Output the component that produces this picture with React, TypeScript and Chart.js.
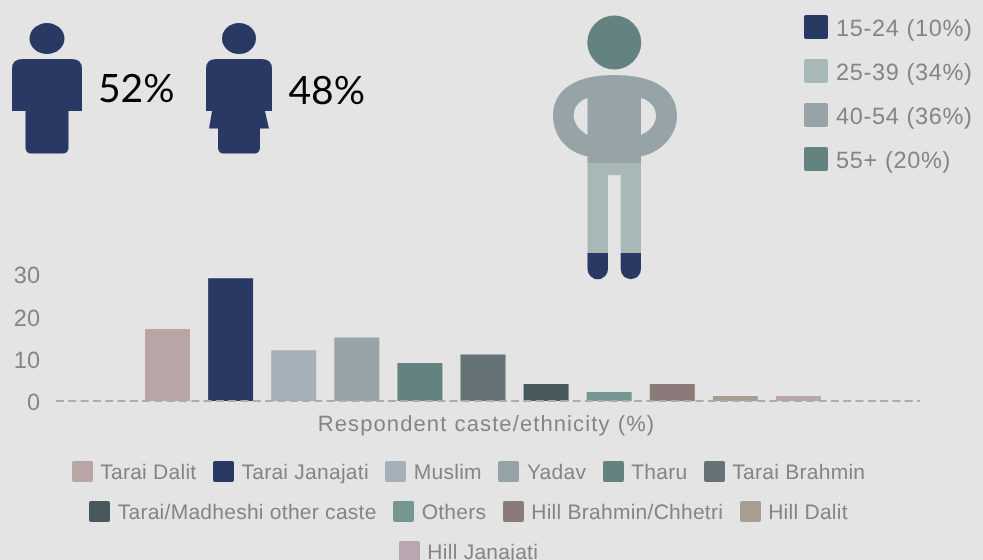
import React, { useEffect, useRef } from "react";
import { Chart, registerables } from "chart.js";

Chart.register(...registerables);

const casteGroups = [
  "Tarai Dalit", "Tarai Janajati", "Muslim", "Yadav", "Tharu", "Tarai Brahmin",
  "Tarai/Madheshi other caste", "Others", "Hill Brahmin/Chhetri", "Hill Dalit", "Hill Janajati",
];
const casteShares = [17, 29, 12, 15, 9, 11, 4, 2.1, 4, 1.2, 1.2];
const casteColors = [
  "#b8a6a6", "#2a3864", "#a6b0b8", "#96a3a7", "#64827f", "#657276",
  "#48595d", "#749792", "#8a7b7a", "#a69e91", "#b9a6b2",
];
const yTicks = [0, 10, 20, 30];
const ageGroups = ["15-24 (10%)", "25-39 (34%)", "40-54 (36%)", "55+ (20%)"];
const ageColors = ["#2a3864", "#a8b8b7", "#96a3a7", "#64827f"];
const genderShares = ["52%", "48%"];
const axisCaption = "Respondent caste/ethnicity (%)";

const TEXT_GREY = "#858585";
const NAVY = "#2a3864";
const SANS = '"Liberation Sans", Arial, sans-serif';

// Unhinted glyphs for the tick labels, and a dashed zero line laid over the bars
// that runs a little past the plot on the right.
const zeroLine = {
  id: "zeroLine",
  beforeDraw(chart: any) {
    chart.ctx.textRendering = "geometricPrecision";
  },
  afterDatasetsDraw(chart: any) {
    const { ctx, chartArea, scales } = chart;
    const y = scales.y.getPixelForValue(0);
    ctx.save();
    ctx.strokeStyle = "#acacac";
    ctx.lineWidth = 2;
    ctx.setLineDash([8, 4.3]);
    ctx.beginPath();
    ctx.moveTo(chartArea.left + 5, y);
    ctx.lineTo(chartArea.right + 5, y);
    ctx.stroke();
    ctx.restore();
  },
};

function CasteChart() {
  const ref = useRef<HTMLCanvasElement>(null);
  useEffect(() => {
    const chart = new Chart(ref.current!, {
      type: "bar",
      data: {
        labels: ["Respondent caste/ethnicity"],
        datasets: casteGroups.map((label, i) => ({
          label,
          data: [casteShares[i]],
          backgroundColor: casteColors[i],
          categoryPercentage: 0.8033,
          barPercentage: 0.713,
        })),
      },
      options: {
        responsive: false,
        animation: false,
        layout: { padding: { left: 0, right: 68, top: 274, bottom: 159 } },
        plugins: { legend: { display: false }, tooltip: { enabled: false } },
        scales: {
          x: { display: false },
          y: {
            min: 0,
            max: 30,
            border: { display: false },
            grid: { display: false },
            afterFit(scale: any) {
              scale.width = 51;
            },
            afterBuildTicks(scale: any) {
              scale.ticks = yTicks.map((value) => ({ value }));
            },
            ticks: {
              color: TEXT_GREY,
              padding: 3,
              labelOffset: 3,
              font: { family: "Liberation Sans", size: 23.5 },
            },
          },
        },
      },
      plugins: [zeroLine],
    });
    return () => chart.destroy();
  }, []);
  return (
    <canvas
      ref={ref}
      width={983}
      height={560}
      style={{ position: "absolute", left: 0, top: 0, width: 983, height: 560 }}
    />
  );
}

function LegendSwatch({ color, w, h }: { color: string; w: number; h: number }) {
  return <span style={{ width: w, height: h, background: color, borderRadius: 2, flex: "none" }} />;
}

function GenderFigures() {
  return (
    <>
      <svg width={983} height={300} style={{ position: "absolute", left: 0, top: 0 }}>
        {/* man */}
        <ellipse cx={47} cy={38.5} rx={17.5} ry={15.5} fill={NAVY} />
        <path
          d="M12 111 V69 Q12 59 22 59 H72 Q82 59 82 69 V111 H68.5 V147.5 Q68.5 153.5 62.5 153.5 H31.5 Q25.5 153.5 25.5 147.5 V111 Z"
          fill={NAVY}
        />
        {/* woman */}
        <ellipse cx={239} cy={38.5} rx={17} ry={15.5} fill={NAVY} />
        <path
          d="M206 111 V69 Q206 59 216 59 H262 Q272 59 272 69 V111 H265 L269 128.5 H260 V147.5 Q260 153.5 254 153.5 H224 Q218 153.5 218 147.5 V128.5 H209 L212 111 Z"
          fill={NAVY}
        />
        {/* age figure */}
        <circle cx={614.3} cy={42.5} r={27} fill={ageColors[3]} />
        <path
          d="M587.5 163 V156.5 C566 152 553 135 553 116 C553 90 575 75 614 75 C655 75 677 90 677 116 C677 135 662 152 641 156.5 V163 Z M587.5 98 C578 101 573.7 108 573.7 116 C573.7 123 580 131 587.5 135 Z M641 98 C651 101 656 108 656 116 C656 124 650 131 641 135 Z"
          fill={ageColors[2]}
          fillRule="evenodd"
        />
        <path
          d="M587.5 163 H641 V253 H620.7 V175 Q614.3 175.6 608 175 V253 H587.5 Z"
          fill={ageColors[1]}
        />
        <path d="M587.5 253 H608 V269 A10.25 10.25 0 0 1 587.5 269 Z" fill={ageColors[0]} />
        <path d="M620.7 253 H641 V269 A10.15 10.15 0 0 1 620.7 269 Z" fill={ageColors[0]} />
      </svg>
      <div style={{ position: "absolute", left: 98, top: 65, font: "39px Lato", color: "#000", lineHeight: "46px" }}>
        {genderShares[0]}
      </div>
      <div style={{ position: "absolute", left: 288.5, top: 67, font: "39px Lato", color: "#000", lineHeight: "46px" }}>
        {genderShares[1]}
      </div>
    </>
  );
}

function AgeLegend() {
  return (
    <div style={{ position: "absolute", left: 804, top: 15 }}>
      {ageGroups.map((label, i) => (
        <div key={label} style={{ display: "flex", alignItems: "center", height: 24, marginBottom: 20 }}>
          <LegendSwatch color={ageColors[i]} w={24} h={24} />
          <span
            style={{
              marginLeft: 8,
              position: "relative",
              top: 1.5,
              font: `23.5px ${SANS}`,
              letterSpacing: 0.65,
              color: TEXT_GREY,
              whiteSpace: "nowrap",
            }}
          >
            {label}
          </span>
        </div>
      ))}
    </div>
  );
}

function CasteLegend() {
  return (
    <div
      style={{
        position: "absolute",
        left: 28,
        top: 461,
        width: 881,
        display: "flex",
        flexWrap: "wrap",
        justifyContent: "center",
        columnGap: 16.5,
        rowGap: 19,
      }}
    >
      {casteGroups.map((label, i) => (
        <div key={label} style={{ display: "flex", alignItems: "center", height: 21 }}>
          <LegendSwatch color={casteColors[i]} w={21} h={21} />
          <span
            style={{
              marginLeft: 7.5,
              position: "relative",
              top: 1,
              font: `21px ${SANS}`,
              letterSpacing: 0.26,
              color: TEXT_GREY,
              whiteSpace: "nowrap",
            }}
          >
            {label}
          </span>
        </div>
      ))}
    </div>
  );
}

export default function App() {
  useEffect(() => {
    document.body.style.margin = "0";
  }, []);
  return (
    <div
      style={{
        position: "relative",
        width: 983,
        height: 560,
        background: "#e4e4e4",
        overflow: "hidden",
        textRendering: "geometricPrecision",
      }}
    >
      <CasteChart />
      <GenderFigures />
      <AgeLegend />
      <div
        style={{
          position: "absolute",
          left: 286.5,
          width: 400,
          top: 411,
          textAlign: "center",
          font: `22px ${SANS}`,
          letterSpacing: 1.1,
          color: TEXT_GREY,
          whiteSpace: "nowrap",
        }}
      >
        {axisCaption}
      </div>
      <CasteLegend />
    </div>
  );
}
